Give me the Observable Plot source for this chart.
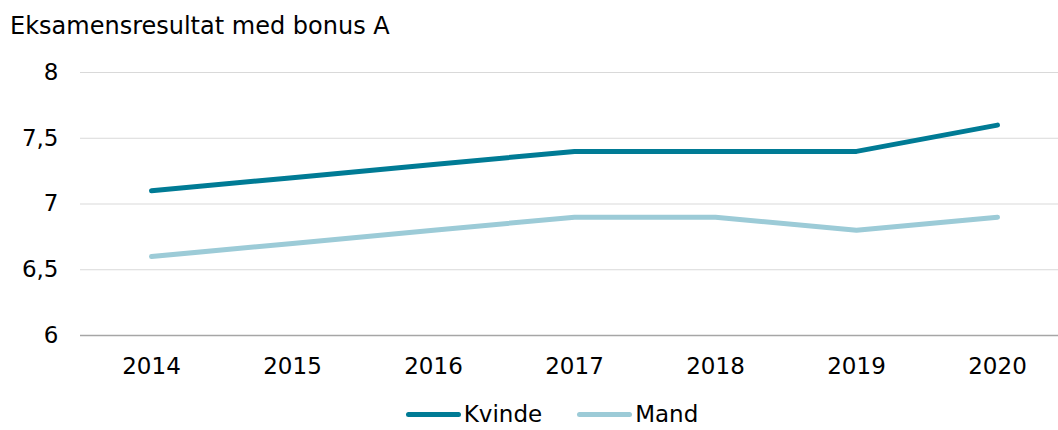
<!DOCTYPE html>
<html>
<head>
<meta charset="utf-8">
<script src="https://cdn.jsdelivr.net/npm/d3@7"></script>
<script src="https://cdn.jsdelivr.net/npm/@observablehq/plot@0.6"></script>
<style>
  body { margin: 0; background: #fff; font-family: "DejaVu Sans", Verdana, sans-serif; }
  #wrap { position: relative; width: 1058px; height: 430px; overflow: hidden; }
  #title { position: absolute; left: 10px; top: 12px; font-size: 24px; color: #000; }
  #chart { position: absolute; left: 0; top: 50px; }
  #legend { position: absolute; left: 0; top: 400px; width: 1058px; display: flex; justify-content: center; gap: 35px; font-size: 23px; line-height: 28px; padding-left: 46px; box-sizing: border-box; }
  .item { display: flex; align-items: center; }
  .sw { width: 55px; height: 5px; border-radius: 3px; margin-right: 3px; }
</style>
</head>
<body>
<div id="wrap">
  <div id="title">Eksamensresultat med bonus A</div>
  <div id="chart"></div>
  <div id="legend"></div>
</div>
<script>
const years = ["2014", "2015", "2016", "2017", "2018", "2019", "2020"];
const kvinde = [7.1, 7.2, 7.3, 7.4, 7.4, 7.4, 7.6];
const mand = [6.6, 6.7, 6.8, 6.9, 6.9, 6.8, 6.9];
const yTicks = [6, 6.5, 7, 7.5, 8];
const seriesNames = ["Kvinde", "Mand"];
const colors = ["#007b95", "#9ccbd7"];

const data = [];
years.forEach((y, i) => {
  data.push({year: y, value: kvinde[i], series: seriesNames[0]});
  data.push({year: y, value: mand[i], series: seriesNames[1]});
});

const fmt = d => String(d).replace(".", ",");

const plot = Plot.plot({
  width: 1058,
  height: 345,
  marginLeft: 80,
  marginRight: 0,
  marginTop: 22,
  marginBottom: 60,
  style: {fontFamily: "'DejaVu Sans', Verdana, sans-serif", fontSize: "23px", color: "#000", background: "#fff"},
  x: {type: "point", domain: years, range: [150, 998], padding: 0, label: null},
  y: {domain: [6, 8], ticks: yTicks, label: null},
  color: {domain: seriesNames, range: colors},
  marks: [
    Plot.ruleY(yTicks.filter(t => t !== 6), {stroke: "#d9d9d9", strokeWidth: 1}),
    Plot.ruleY([6], {stroke: "#a6a6a6", strokeWidth: 1.5}),
    Plot.axisY({ticks: yTicks, tickFormat: fmt, tickSize: 0, tickPadding: 22, label: null, fontSize: 23}),
    Plot.axisX({tickSize: 0, tickPadding: 22, label: null, fontSize: 23}),
    Plot.line(data, {x: "year", y: "value", z: "series", stroke: "series", strokeWidth: 5, strokeLinecap: "round", strokeLinejoin: "round"})
  ]
});
document.getElementById("chart").appendChild(plot);

const legend = document.getElementById("legend");
seriesNames.forEach((name, i) => {
  const item = document.createElement("div");
  item.className = "item";
  const sw = document.createElement("div");
  sw.className = "sw";
  sw.style.background = colors[i];
  const label = document.createElement("span");
  label.textContent = name;
  item.appendChild(sw);
  item.appendChild(label);
  legend.appendChild(item);
});
</script>
</body>
</html>
